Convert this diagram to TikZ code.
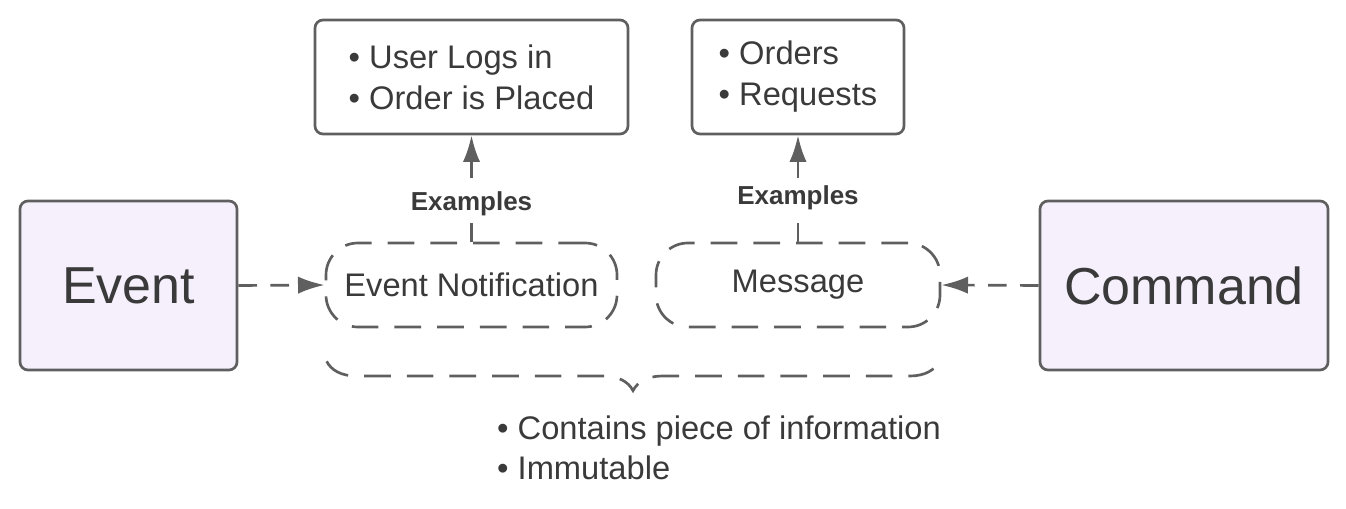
\documentclass[tikz,border=0pt]{standalone}
\usepackage{fontspec}
\setmainfont{Liberation Sans}
\usetikzlibrary{positioning, arrows.meta, decorations.pathreplacing}
\definecolor{Line-Gray}{RGB}{95,95,95}
\definecolor{Text-Gray}{RGB}{58,58,58}
\definecolor{Lavender}{RGB}{246,240,253}

\begin{document}
\begin{tikzpicture}[x=0.75pt, y=-0.75pt]
          \tikzset{ kind/.style ={draw=Line-Gray, line width=2pt, fill=Lavender, rounded corners=6pt, text=Text-Gray, font=\fontsize{39}{45}\selectfont, minimum height=126.75pt} }
          \tikzset{ pill/.style ={draw=Line-Gray, line width=2pt, dash pattern=on 20pt off 12pt, rounded corners=24pt, text=Text-Gray, font=\fontsize{24.5}{30}\selectfont, minimum height=63pt} }
          \tikzset{ exbox/.style={draw=Line-Gray, line width=2pt, rounded corners=6pt, text=Text-Gray, align=left, font=\fontsize{24.5}{30.75}\selectfont, minimum height=85.5pt} }
          \tikzset{ lnk/.style  ={draw=Line-Gray, line width=2pt, dash pattern=on 14pt off 10pt, -{Latex[length=20pt, width=13pt]}} }
          \tikzset{ exlbl/.style={fill=white, text=Text-Gray, font=\bfseries\fontsize{19.5}{22}\selectfont, inner sep=2pt} }

          \useasboundingbox (0,0) rectangle (1346,509);

          \node[kind, minimum width=162.75pt] (evt) at (128.5, 285.5) {Event};
          \node[kind, minimum width=216pt  ] (cmd) at (1184, 285.5) {Command};

          \node[pill, minimum width=218.25pt] (evtnote) at (471.5, 285) {Event Notification};
          \node[pill, minimum width=213pt   ] (msg)     at (798, 285)   {Message};

          \node[exbox, minimum width=234.75pt] (ex_evt) at (471.5, 77) {\textbullet\ User Logs in\\\textbullet\ Order is Placed};
          \node[exbox, minimum width=159pt   ] (ex_msg) at (798, 77)   {\textbullet\ Orders\\\textbullet\ Requests};

          \draw[lnk] (evt.east) -- (evtnote.west);
          \draw[lnk] (cmd.west) -- (msg.east);
          \draw[lnk] (evtnote.north) -- node[exlbl, pos=0.36] {Examples} (ex_evt.south);
          \draw[lnk] (msg.north) -- node[exlbl, pos=0.41] {Examples} (ex_msg.south);

          % brace under both message kinds
          \coordinate (br_l) at ([xshift=1.5pt, yshift=-24.75pt]evtnote.south west);
          \coordinate (br_r) at ([xshift=-1.5pt, yshift=-24.75pt]msg.south east);
          \draw[draw=Line-Gray, line width=2pt, dash pattern=on 20pt off 12pt, decorate, decoration={brace, mirror, amplitude=22pt}] (br_l) -- (br_r);

          \node[text=Text-Gray, align=left, font=\fontsize{24.5}{30}\selectfont] (props) at (719, 448) {\textbullet\ Contains piece of information\\\textbullet\ Immutable};
      \end{tikzpicture}
\end{document}
